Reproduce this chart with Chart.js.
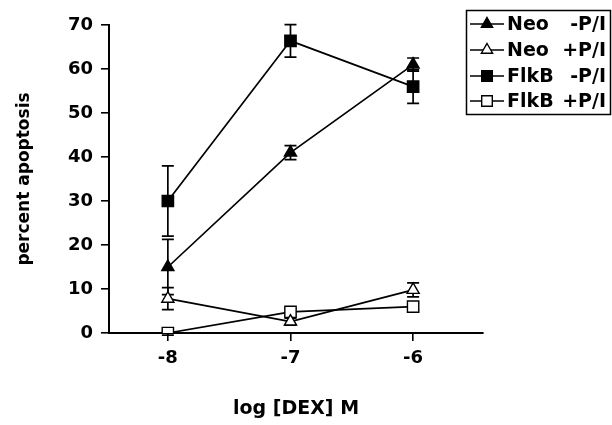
<!DOCTYPE html>
<html>
<head>
<meta charset="utf-8">
<script src="https://cdn.jsdelivr.net/npm/chart.js@4.4.1/dist/chart.umd.min.js"></script>
<style>
html,body{margin:0;padding:0;background:#fff;}
#wrap{width:612px;height:425px;position:relative;}
</style>
</head>
<body>
<div id="wrap"><canvas id="c" width="612" height="425"></canvas></div>
<script>
// ---- data ----
const xValues = [-8, -7, -6];
const xTicks = [-8, -7, -6];
const yTicks = [0, 10, 20, 30, 40, 50, 60, 70];
const seriesLabels = ['Neo  -P/I', 'Neo  +P/I', 'FlkB  -P/I', 'FlkB  +P/I'];
const neoMinus = [15, 41, 61];
const neoMinusErr = [6.3, 1.6, 1.5];
const neoPlus = [7.8, 2.6, 9.8];
const neoPlusErr = [2.5, 0.8, 1.6];
const flkMinus = [30, 66.4, 56];
const flkMinusErr = [8, 3.7, 3.8];
const flkPlus = [0, 4.8, 6];
const flkPlusErr = [0.5, 0.8, 0.8];

const FONT = "'DejaVu Sans', sans-serif";

function pts(vals){ return xValues.map((x,i)=>({x:x, y:vals[i]})); }

const styles = [
  {pointStyle:'triangle', fill:'#000', radius:7},
  {pointStyle:'triangle', fill:'#fff', radius:7},
  {pointStyle:'rect', fill:'#000', radius:8},
  {pointStyle:'rect', fill:'#fff', radius:8}
];
const values = [neoMinus, neoPlus, flkMinus, flkPlus];
const errors = [neoMinusErr, neoPlusErr, flkMinusErr, flkPlusErr];

const datasets = values.map((v,i)=>({
  label: seriesLabels[i],
  data: pts(v),
  errors: errors[i],
  borderColor: '#000',
  borderWidth: 1.7,
  backgroundColor: styles[i].fill,
  pointStyle: styles[i].pointStyle,
  pointRadius: styles[i].radius,
  pointHoverRadius: styles[i].radius,
  pointBackgroundColor: styles[i].fill,
  pointBorderColor: '#000',
  pointBorderWidth: 1.4,
  fill: false,
  tension: 0
}));

const errorBars = {
  id: 'errorBars',
  beforeDatasetsDraw(chart){
    const ctx = chart.ctx;
    const ys = chart.scales.y;
    ctx.save();
    ctx.strokeStyle = '#000';
    ctx.lineWidth = 1.7;
    chart.data.datasets.forEach((ds, di)=>{
      const meta = chart.getDatasetMeta(di);
      meta.data.forEach((pt, i)=>{
        const v = ds.data[i].y, e = ds.errors[i];
        const x = pt.x;
        const yt = ys.getPixelForValue(v + e);
        const yb = ys.getPixelForValue(v - e);
        ctx.beginPath();
        ctx.moveTo(x, yt); ctx.lineTo(x, yb);
        ctx.moveTo(x-6, yt); ctx.lineTo(x+6, yt);
        ctx.moveTo(x-6, yb); ctx.lineTo(x+6, yb);
        ctx.stroke();
      });
    });
    ctx.restore();
  }
};

function drawMarker(ctx, style, fill, r, x, y){
  ctx.beginPath();
  if(style === 'triangle'){
    const rad = Math.PI/180;
    let a = 0;
    ctx.moveTo(x + Math.sin(a)*r, y - Math.cos(a)*r);
    a += 120*rad;
    ctx.lineTo(x + Math.sin(a)*r, y - Math.cos(a)*r);
    a += 120*rad;
    ctx.lineTo(x + Math.sin(a)*r, y - Math.cos(a)*r);
    ctx.closePath();
  } else {
    const s = r*Math.SQRT1_2;
    ctx.rect(x-s, y-s, 2*s, 2*s);
  }
  ctx.fillStyle = fill;
  ctx.fill();
  ctx.lineWidth = 1.4;
  ctx.strokeStyle = '#000';
  ctx.stroke();
}

const boxLegend = {
  id: 'boxLegend',
  afterDraw(chart){
    const ctx = chart.ctx;
    ctx.save();
    ctx.strokeStyle = '#000';
    ctx.lineWidth = 1.5;
    ctx.strokeRect(466.5, 10.5, 144, 104);
    const rows = [24, 50, 76, 101];
    ctx.font = "bold 19px " + FONT;
    ctx.textBaseline = 'middle';
    chart.data.datasets.forEach((ds, i)=>{
      const y = rows[i];
      ctx.beginPath();
      ctx.lineWidth = 1.6;
      ctx.moveTo(470, y); ctx.lineTo(504, y);
      ctx.stroke();
      drawMarker(ctx, styles[i].pointStyle, styles[i].fill, styles[i].pointStyle==='rect'?7.5:6.5, 487, y);
      const parts = ds.label.split('  ');
      ctx.fillStyle = '#000';
      ctx.textAlign = 'left';
      ctx.fillText(parts[0], 507, y+1);
      ctx.textAlign = 'right';
      ctx.fillText(parts[1], 606, y+1);
    });
    ctx.restore();
  }
};

new Chart(document.getElementById('c'), {
  type: 'line',
  data: { datasets },
  plugins: [errorBars, boxLegend],
  options: {
    responsive: false,
    animation: false,
    events: [],
    layout: { padding: { left: 0, right: 129, top: 25, bottom: 0 } },
    plugins: { legend: { display: false }, tooltip: { enabled: false } },
    scales: {
      x: {
        type: 'linear',
        min: -8.48,
        max: -5.43,
        afterBuildTicks(s){ s.ticks = xTicks.map(v=>({value:v})); },
        afterFit(s){ s.height = 92; },
        grid: { display: true, drawOnChartArea: false, drawTicks: true, tickLength: 8, color: '#000', lineWidth: 1.6 },
        border: { display: true, color: '#000', width: 2 },
        ticks: { color: '#000', font: { family: FONT, size: 18, weight: 'bold' }, padding: 7, maxRotation: 0 },
        title: { display: true, text: 'log [DEX] M', color: '#000', font: { family: FONT, size: 19, weight: 'bold' }, padding: { top: 0, bottom: 5 } }
      },
      y: {
        type: 'linear',
        min: 0,
        max: 70,
        afterBuildTicks(s){ s.ticks = yTicks.map(v=>({value:v})); },
        afterFit(s){ s.width = 109; },
        grid: { display: true, drawOnChartArea: false, drawTicks: true, tickLength: 8, color: '#000', lineWidth: 1.6 },
        border: { display: true, color: '#000', width: 2 },
        ticks: { color: '#000', font: { family: FONT, size: 18, weight: 'bold' }, padding: 8 },
        title: { display: true, text: 'percent apoptosis', color: '#000', font: { family: FONT, size: 17, weight: 'bold' }, padding: { top: 14, bottom: 0 } }
      }
    }
  }
});
</script>
</body>
</html>
